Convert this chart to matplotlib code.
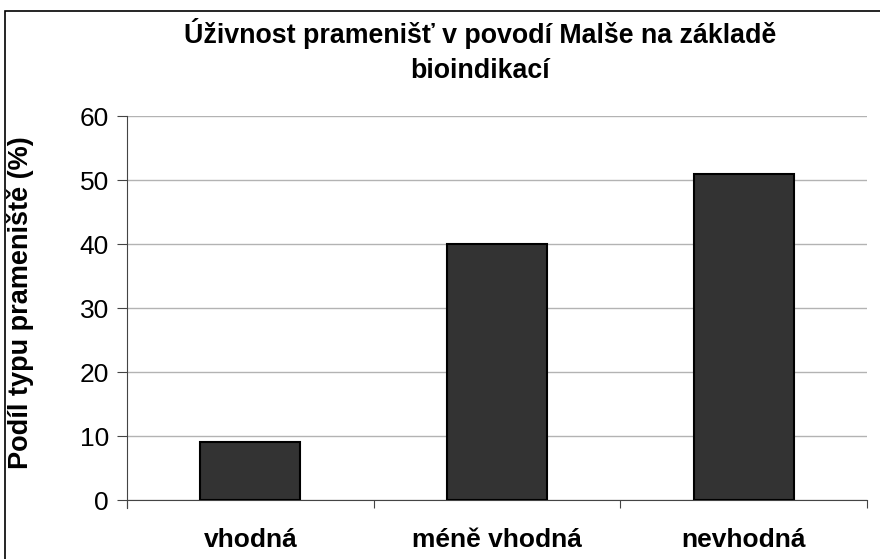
import matplotlib.pyplot as plt
from matplotlib.patches import Rectangle

# data
kategorie = ['vhodná', 'méně vhodná', 'nevhodná']
podil = [9, 40, 51]
y_ticks = [0, 10, 20, 30, 40, 50, 60]

plt.rcParams['font.family'] = ['Liberation Sans', 'DejaVu Sans']

fig = plt.figure(figsize=(8.8, 5.59), dpi=100)
ax = fig.add_axes([127/880, 1 - 500/559, 740/880, 384/559])

x = range(len(kategorie))
ax.bar(x, podil, width=0.405, color='#333333', edgecolor='black', linewidth=1.5, zorder=3)

ax.set_xlim(-0.5, len(kategorie) - 0.5)
ax.set_ylim(0, 60)
ax.set_yticks(y_ticks)
ax.set_yticklabels([str(v) for v in y_ticks], fontsize=19)
ax.yaxis.grid(True, color='#b3b3b3', linewidth=1, zorder=0)

# tick marks between the categories, labels centred under bars
ax.set_xticks([-0.5, 0.5, 1.5, 2.5])
ax.set_xticklabels([])
ax.tick_params(axis='x', direction='out', length=6, color='#444444')
ax.tick_params(axis='y', direction='out', length=7, color='#444444', pad=6)
for i, k in enumerate(kategorie):
    ax.text(i, -0.105, k, transform=ax.get_xaxis_transform(), ha='center', va='center',
            fontsize=19, fontweight='bold')

for s in ['top', 'right']:
    ax.spines[s].set_visible(False)
ax.spines['left'].set_color('#444444')
ax.spines['bottom'].set_color('#444444')
ax.spines['left'].set_bounds(-1.3, 60)

ax.set_ylabel('Podíl typu prameniště (%)', fontsize=19.5, fontweight='bold')
ax.yaxis.set_label_coords((34 - 127) / 740, 0.513)

fig.text(480/880, 1 - 51/559, 'Úživnost pramenišť v povodí Malše na základě\nbioindikací',
         ha='center', va='center', fontsize=19.3, fontweight='bold', linespacing=1.42)

# chart frame
fig.patches.append(Rectangle((5/880, -0.1), 1.2, 1 - 11/559 + 0.1, transform=fig.transFigure,
                             fill=False, edgecolor='black', linewidth=1.2))

fig.savefig('out.png', dpi=100)
